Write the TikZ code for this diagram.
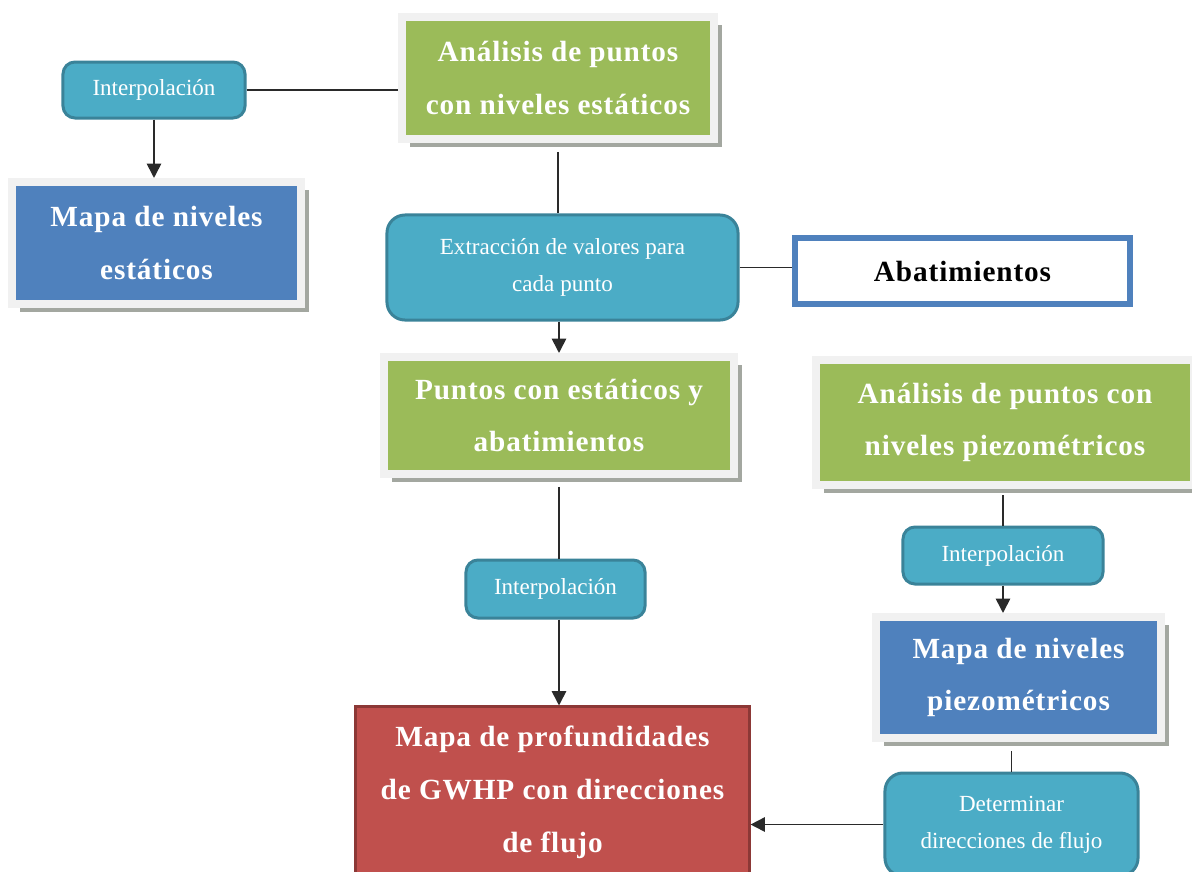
\documentclass[tikz,border=0pt]{standalone}
\usepackage{fontspec}
\setmainfont{Liberation Serif}
\newfontfamily\widefont[LetterSpace=3]{Liberation Serif}
\usetikzlibrary{arrows.meta,shadows}

\definecolor{boxgreen}{HTML}{9BBB59}
\definecolor{boxblue}{HTML}{4F81BD}
\definecolor{boxred}{HTML}{C0504D}
\definecolor{redline}{HTML}{8C3836}
\definecolor{boxteal}{HTML}{4BACC6}
\definecolor{tealline}{HTML}{3A8399}
\definecolor{framegray}{HTML}{F1F1F1}
\definecolor{shadowgray}{HTML}{A3A7A0}
\definecolor{linkgray}{HTML}{2A2A2A}

\begin{document}
\begin{tikzpicture}
    [x=0.025cm, y=-0.025cm,
    main box/.style={draw=framegray, line width=0.2cm, inner sep=0pt, align=center,
        text=white, font=\widefont\bfseries\fontsize{20.8}{37.6}\selectfont,
        drop shadow={shadow xshift=0.2cm, shadow yshift=-0.2cm, fill=shadowgray, opacity=1}},
    task box/.style={draw=tealline, fill=boxteal, line width=0.075cm, rounded corners=0.3cm,
        inner sep=0pt, align=center, text=white, font=\fontsize{16.4}{26.4}\selectfont},
    link/.style={draw=linkgray, line width=1.2pt},
    flow arrow/.style={link, -{Triangle[width=0.36cm,length=0.36cm]}}]

\clip (0,0) rectangle (1192,871);

%boxes with results
\node[main box, fill=boxgreen, minimum width=7.8cm, minimum height=3.05cm]
    (estat) at (558,78) {Análisis de puntos\\con niveles estáticos};
\node[main box, fill=boxblue, minimum width=7.225cm, minimum height=3.05cm]
    (mapaEst) at (156.5,243) {Mapa de niveles\\estáticos};
\node[main box, fill=boxgreen, minimum width=8.75cm, minimum height=2.925cm]
    (puntos) at (559,415.5) {Puntos con estáticos y\\abatimientos};
\node[main box, fill=boxgreen, minimum width=9.45cm, minimum height=3.125cm]
    (piezo) at (1005,422.5) {Análisis de puntos con\\niveles piezométricos};
\node[main box, fill=boxblue, minimum width=7.125cm, minimum height=3.025cm]
    (mapaPiezo) at (1018.5,677.5) {Mapa de niveles\\piezométricos};
\node[draw=boxblue, fill=white, line width=0.15cm, minimum width=8.375cm, minimum height=1.65cm,
    font=\widefont\bfseries\fontsize{20.8}{37.6}\selectfont]
    (abat) at (962.5,271) {Abatimientos};
\node[draw=redline, fill=boxred, line width=0.075cm, minimum width=9.825cm, minimum height=4.25cm,
    inner sep=0pt, align=center, text=white, font=\widefont\bfseries\fontsize{20.8}{37.6}\selectfont]
    (prof) at (552.5,792) {Mapa de profundidades\\de GWHP con direcciones\\de flujo};

%process steps
\node[task box, minimum width=4.55cm, minimum height=1.4cm] (interpA) at (154,90) {Interpolación};
\node[task box, rounded corners=0.45cm, minimum width=8.775cm, minimum height=2.625cm]
    (extr) at (562.5,267.5) {Extracción de valores para\\cada punto};
\node[task box, minimum width=4.475cm, minimum height=1.45cm] (interpB) at (555.5,589) {Interpolación};
\node[task box, minimum width=5cm, minimum height=1.425cm] (interpC) at (1003,555.5) {Interpolación};
\node[task box, rounded corners=0.45cm, minimum width=6.325cm, minimum height=2.575cm]
    (determ) at (1011.5,824.5) {Determinar\\direcciones de flujo};

%plain links
\draw[link] (interpA.east) -- (interpA.east -| estat.west);
\draw[link, shorten <=0.22cm] (estat.south) -- (estat.south |- extr.north);
\draw[link] (extr.east) -- (extr.east -| abat.west);
\draw[link, shorten <=0.22cm] (puntos.south) -- (puntos.south |- interpB.north);
\draw[link, shorten <=0.15cm] (interpC.north |- piezo.south) -- (interpC.north);
\draw[link, shorten <=0.22cm] (determ.north |- mapaPiezo.south) -- (determ.north);

%arrows
\draw[flow arrow] (interpA.south) -- (interpA.south |- mapaEst.north);
\draw[flow arrow] (extr.south -| puntos.north) -- (puntos.north);
\draw[flow arrow] (interpB.south -| puntos.south) -- (puntos.south |- prof.north);
\draw[flow arrow] (interpC.south) -- (interpC.south |- mapaPiezo.north);
\draw[flow arrow] (determ.west) -- (determ.west -| prof.east);

\end{tikzpicture}
\end{document}
